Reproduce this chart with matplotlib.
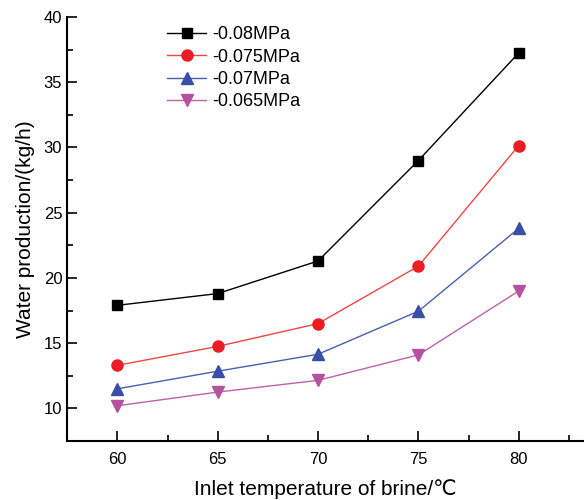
import numpy as np
import matplotlib
matplotlib.use('Agg')
from matplotlib import pyplot as plt
from matplotlib.ticker import MultipleLocator

plt.rcParams['font.family'] = ['Liberation Sans', 'DejaVu Sans']

# inlet brine temperature (C)
temp = [60, 65, 70, 75, 80]

# water production (kg/h) at each vacuum
p080 = [17.9, 18.8, 21.3, 29.0, 37.25]
p075 = [13.3, 14.75, 16.5, 20.9, 30.15]
p070 = [11.5, 12.85, 14.15, 17.45, 23.8]
p065 = [10.2, 11.25, 12.15, 14.1, 19.0]

labels = ['-0.08MPa', '-0.075MPa', '-0.07MPa', '-0.065MPa']

fig = plt.figure(figsize=(5.84, 5.0), dpi=100)
ax = fig.add_axes([0.115, 0.118, 0.885, 0.848])

ax.plot(temp, p080, '-', color='black', linewidth=1,
        marker='s', markersize=7, markerfacecolor='black', markeredgecolor='black', label=labels[0])
ax.plot(temp, p075, '-', color='#f04545', linewidth=1,
        marker='o', markersize=8, markerfacecolor='#ec1c24', markeredgecolor='#ec1c24', label=labels[1])
ax.plot(temp, p070, '-', color='#4a5fb0', linewidth=1,
        marker='^', markersize=8.5, markerfacecolor='#3a4ea6', markeredgecolor='#3a4ea6', label=labels[2])
ax.plot(temp, p065, '-', color='#c060a8', linewidth=1,
        marker='v', markersize=8.5, markerfacecolor='#b452a0', markeredgecolor='#b452a0', label=labels[3])

ax.set_xlim(57.5, 83.25)
ax.set_ylim(7.5, 40)
ax.xaxis.set_major_locator(MultipleLocator(5))
ax.xaxis.set_minor_locator(MultipleLocator(2.5))
ax.yaxis.set_major_locator(MultipleLocator(5))
ax.yaxis.set_minor_locator(MultipleLocator(2.5))
ax.spines['top'].set_visible(False)
ax.spines['right'].set_visible(False)
ax.spines['left'].set_linewidth(1.5)
ax.spines['bottom'].set_linewidth(1.5)
ax.tick_params(which='major', direction='in', length=7, width=1.2, labelsize=12)
ax.tick_params(which='minor', direction='in', length=4, width=1.2)
ax.tick_params(axis='x', pad=8)

ax.set_xlabel('Inlet temperature of brine/\u2103', fontsize=15, labelpad=9)
ax.set_ylabel('Water production/(kg/h)', fontsize=15, labelpad=6)

ax.legend(loc='upper left', bbox_to_anchor=(0.273, 0.962), bbox_transform=fig.transFigure,
          frameon=False, fontsize=13, handlelength=2.2, labelspacing=0.3,
          handletextpad=0.3, borderaxespad=0)

plt.savefig('out.png', dpi=100)
